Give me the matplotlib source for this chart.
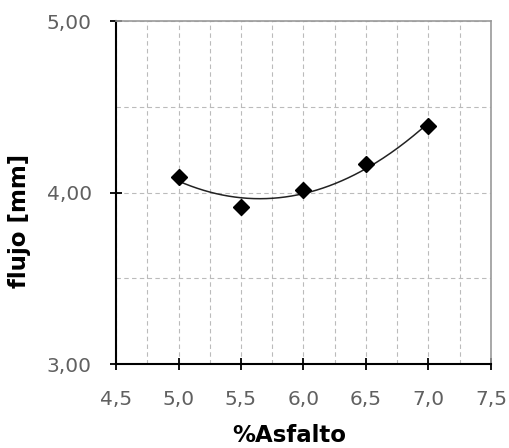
import numpy as np
import matplotlib
matplotlib.use("Agg")
import matplotlib.pyplot as plt
from matplotlib.ticker import MultipleLocator, FuncFormatter

plt.rcParams['font.family'] = ['DejaVu Sans']

asfalto = [5.0, 5.5, 6.0, 6.5, 7.0]
flujo = [4.09, 3.915, 4.015, 4.165, 4.39]

fig = plt.figure(figsize=(5.10, 4.48), dpi=100)
ax = fig.add_axes([116/510, 1 - 364/448, (491-116)/510, (364-21)/448])

ax.set_xlim(4.5, 7.5)
ax.set_ylim(3.0, 5.0)

# second-order trendline
coef = np.polyfit(asfalto, flujo, 2)
xs = np.linspace(min(asfalto), max(asfalto), 200)
ax.plot(xs, np.polyval(coef, xs), color='#222222', lw=1.1, zorder=3)
ax.plot(asfalto, flujo, linestyle='none', marker='D', markersize=8,
        color='black', zorder=4)

ax.xaxis.set_major_locator(MultipleLocator(0.5))
ax.xaxis.set_minor_locator(MultipleLocator(0.25))
ax.yaxis.set_major_locator(MultipleLocator(1.0))
ax.yaxis.set_minor_locator(MultipleLocator(0.5))
ax.xaxis.set_major_formatter(FuncFormatter(lambda v, p: f"{v:.1f}".replace('.', ',')))
ax.yaxis.set_major_formatter(FuncFormatter(lambda v, p: f"{v:.2f}".replace('.', ',')))

grid_style = dict(color='#bbbbbb', linestyle=(0, (4, 3)), lw=0.8)
ax.grid(which='both', axis='x', **grid_style)
ax.grid(which='both', axis='y', **grid_style)

ax.tick_params(which='major', direction='inout', length=9, width=1.3,
               labelsize=14.5, labelcolor='#606060')
ax.tick_params(axis='x', which='major', pad=14)
ax.tick_params(axis='y', which='major', pad=13)
ax.tick_params(which='minor', length=0)

for s in ['left', 'bottom']:
    ax.spines[s].set_color('black')
    ax.spines[s].set_linewidth(1.5)
for s in ['top', 'right']:
    ax.spines[s].set_color('#999999')
    ax.spines[s].set_linewidth(1.2)

ax.set_xlabel('%Asfalto', fontsize=16.5, fontweight='bold', va='baseline')
ax.xaxis.set_label_coords(0.463, -0.227)
ax.set_ylabel('flujo [mm]', fontsize=16.5, fontweight='bold', va='center')
ax.yaxis.set_label_coords(-0.256, 0.418)

fig.savefig('out.png', dpi=100, facecolor='white')
